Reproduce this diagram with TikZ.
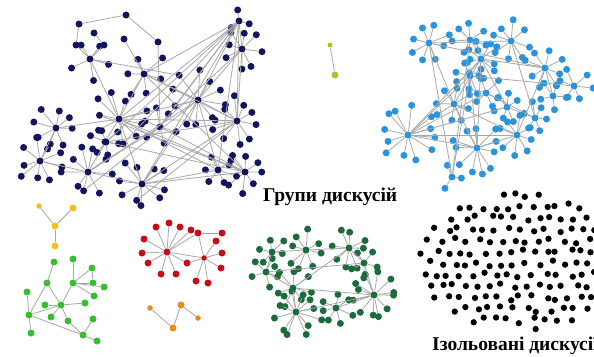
\documentclass[tikz,border=0pt]{standalone}
\usepackage{fontspec}
\setmainfont{Liberation Serif}
\usetikzlibrary{calc}

\definecolor{navy}{HTML}{10155E}
\definecolor{skyblue}{HTML}{2A93DB}
\definecolor{darkgreen}{HTML}{1B6B3B}
\definecolor{brightgreen}{HTML}{36BE30}
\definecolor{netred}{HTML}{C40E18}
\definecolor{netorange}{HTML}{E88A1C}
\definecolor{netyellow}{HTML}{F4C021}
\definecolor{lime}{HTML}{A6C42E}
\definecolor{edgegray}{HTML}{A8A8A8}

\tikzset{
	dot/.style={circle, inner sep=0pt, minimum size=7pt},
	isodot/.style={circle, inner sep=0pt, minimum size=6.3pt, fill=black},
	edge/.style={draw=edgegray, line width=0.8pt},
	lbl/.style={font=\bfseries\fontsize{19.5}{22}\selectfont, inner sep=0pt}
}

% star: name, colour, x, y, leaves, radius
\newcommand{\starnet}[6]{%
	\node[dot,fill=#2] (#1) at (#3,#4) {};
	\foreach \k in {1,...,#5}{%
		\pgfmathsetmacro{\leafang}{\k*360/#5+rnd*24}
		\pgfmathsetmacro{\leafrad}{#6*(0.8+0.5*rnd)}
		\node[dot,fill=#2] (#1-\k) at ($(#1)+(\leafang:\leafrad)$) {};
		\draw[edge] (#1) -- (#1-\k);
	}}

\begin{document}
\begin{tikzpicture}[x=1pt,y=-1pt]
	\pgfmathsetseed{4711}
	\fill[white] (0,0) rectangle (594,356);
	\clip (0,0) rectangle (594,356);
	
	%navy cluster
	\starnet{n1}{navy}{239}{21}{3}{12}
	\starnet{n2}{navy}{242}{49}{8}{16}
	\starnet{n3}{navy}{144}{74}{6}{19}
	\starnet{n4}{navy}{90}{59}{5}{17}
	\starnet{n5}{navy}{198}{100}{10}{25}
	\starnet{n6}{navy}{119}{119}{10}{23}
	\starnet{n7}{navy}{237}{121}{10}{21}
	\starnet{n8}{navy}{56}{128}{8}{19}
	\starnet{n9}{navy}{40}{161}{9}{19}
	\starnet{n10}{navy}{88}{172}{9}{21}
	\starnet{n11}{navy}{142}{184}{10}{21}
	\starnet{n12}{navy}{245}{172}{8}{17}
	\starnet{n13}{navy}{218}{170}{6}{15}
	\starnet{n14}{navy}{106}{142}{6}{15}
	\starnet{n15}{navy}{160}{127}{6}{15}
	\node[dot,fill=navy] (t1) at (79,24) {};
	\node[dot,fill=navy] (t2) at (126,15) {};
	\node[dot,fill=navy] (t3) at (158,42) {};
	\node[dot,fill=navy] (t4) at (94,33) {};
	\node[dot,fill=navy] (t5) at (104,45) {};
	\node[dot,fill=navy] (t6) at (76,45) {};
	\node[dot,fill=navy] (t7) at (124,39) {};
	\foreach \a/\b in {t1/t2, t2/t3, t3/n15, t1/t6, t6/n4, t4/t5, t5/n4, t7/n3,
		n1/n3, n1/n5, n1/n6, n1/n15, n1/n11, n1/n13, n1/n7, n1/n2, n1/n5-4, n1/n6-2, n1/n14,
		n2/n5, n2/n7, n3/n5, n3/n7, n3/n6, n4/n6, n5/n11, n5/n10, n5/n7, n5/n6,
		n6/n7, n6/n11, n6/n13, n6/n8, n6/n12, n8/n9, n9/n10, n10/n11, n10/n14,
		n11/n12, n11/n13, n11/n7, n14/n12, n14/n7, n15/n12, n15/n10, n13/n5, n3/n12,
		n4/n5-6, n7/n11-3, n2/n15-2, n5/n10-2, n12/n6-5}
		\draw[edge] (\a) -- (\b);
	
	%light blue cluster
	\starnet{b1}{skyblue}{429}{43}{8}{17}
	\starnet{b2}{skyblue}{470}{40}{7}{15}
	\starnet{b3}{skyblue}{511}{41}{8}{17}
	\starnet{b4}{skyblue}{481}{59}{9}{16}
	\starnet{b5}{skyblue}{470}{76}{8}{16}
	\starnet{b6}{skyblue}{545}{68}{8}{17}
	\starnet{b7}{skyblue}{574}{86}{6}{15}
	\starnet{b8}{skyblue}{553}{96}{5}{13}
	\starnet{b9}{skyblue}{454}{104}{8}{16}
	\starnet{b10}{skyblue}{486}{93}{6}{14}
	\starnet{b11}{skyblue}{507}{107}{7}{14}
	\starnet{b12}{skyblue}{408}{135}{12}{23}
	\starnet{b13}{skyblue}{477}{148}{11}{21}
	\starnet{b14}{skyblue}{517}{135}{8}{16}
	\starnet{b15}{skyblue}{535}{118}{6}{14}
	\starnet{b16}{skyblue}{452}{177}{3}{11}
	\foreach \a/\b in {b12/b13, b12/b14, b12/b5, b12/b4, b1/b6, b1/b9, b1/b16,
		b4/b13, b5/b13, b5/b16, b4/b9, b3/b15, b6/b8, b9/b14, b10/b12, b2/b16,
		b13/b14, b4/b6, b11/b12, b5/b7, b1/b3, b4/b11, b9/b13, b10/b15, b6/b14}
		\draw[edge] (\a) -- (\b);
	
	%lime pair
	\node[dot,fill=lime,minimum size=5pt] (l1) at (330,45) {};
	\node[dot,fill=lime] (l2) at (335,75) {};
	\draw[edge] (l1) -- (l2);
	
	%yellow
	\node[dot,fill=netyellow] (y0) at (55,226) {};
	\node[dot,fill=netyellow,minimum size=5.5pt] (y1) at (39,206) {};
	\node[dot,fill=netyellow] (y2) at (73,208) {};
	\node[dot,fill=netyellow] (y3) at (55,246) {};
	\foreach \b in {y1,y2,y3} \draw[edge] (y0) -- (\b);
	
	%bright green
	\foreach \n/\x/\y in {g1/54/262, g2/73/259, g3/47/283, g4/73/283, g5/92/268, g6/93/283,
		g7/104/287, g8/94/296, g9/27/292, g10/61/305, g11/45/305, g12/85/303, g13/29/315,
		g14/51/317, g15/68/321, g16/93/319, g17/31/333, g18/83/335, g19/97/341}
		\node[dot,fill=brightgreen] (\n) at (\x,\y) {};
	\foreach \a/\b in {g1/g3, g3/g13, g3/g10, g4/g2, g4/g5, g4/g6, g4/g7, g4/g8, g4/g10,
		g5/g6, g10/g11, g10/g12, g10/g14, g10/g15, g13/g9, g13/g17, g13/g10, g13/g18,
		g18/g19, g18/g16, g18/g15}
		\draw[edge] (\a) -- (\b);
	
	%red
	\node[dot,fill=netred] (r0) at (167,252) {};
	\node[dot,fill=netred,minimum size=5.5pt] (r9) at (204,258) {};
	\foreach \n/\x/\y in {r1/156/227, r2/169/223, r3/180/227, r4/144/239, r5/142/253,
		r6/148/263, r7/161/274, r8/176/274, r10/187/263, r11/191/230}
		\node[dot,fill=netred] (\n) at (\x,\y) {};
	\foreach \n/\x/\y in {s1/198/233, s2/222/233, s3/216/241, s4/222/253, s5/221/268,
		s6/208/283, s7/196/281}
		\node[dot,fill=netred] (\n) at (\x,\y) {};
	\foreach \b in {r1,r2,r3,r4,r5,r6,r7,r8,r9,r10,r11,s1} \draw[edge] (r0) -- (\b);
	\foreach \b in {s1,s3,s4,s5,s6,s7,r10} \draw[edge] (r9) -- (\b);
	\draw[edge] (s1) -- (s2);
	
	%orange
	\node[dot,fill=netorange,minimum size=5.5pt] (o1) at (150,308) {};
	\node[dot,fill=netorange] (o2) at (173,328) {};
	\node[dot,fill=netorange] (o3) at (181,305) {};
	\node[dot,fill=netorange,minimum size=5.5pt] (o4) at (198,318) {};
	\draw[edge] (o1) -- (o2) -- (o3) -- (o4);
	
	%dark green cluster
	\starnet{d1}{darkgreen}{306}{250}{8}{17}
	\starnet{d2}{darkgreen}{349}{248}{8}{17}
	\starnet{d3}{darkgreen}{272}{252}{6}{13}
	\starnet{d4}{darkgreen}{364}{263}{5}{12}
	\starnet{d5}{darkgreen}{293}{288}{7}{16}
	\starnet{d6}{darkgreen}{374}{295}{12}{20}
	\starnet{d7}{darkgreen}{296}{312}{12}{21}
	\starnet{d8}{darkgreen}{336}{308}{7}{15}
	\starnet{d9}{darkgreen}{266}{272}{5}{12}
	\foreach \a/\b in {d1/d2, d3/d1, d9/d4, d5/d6, d5/d2, d7/d6, d8/d6, d7/d5,
		d4/d6, d2/d4, d9/d5, d3/d9}
		\draw[edge] (\a) -- (\b);
	
	%isolated dots
	\foreach \gx in {0,...,15}{
		\foreach \gy in {0,...,12}{
			\pgfmathsetmacro{\px}{417+\gx*12.2+mod(\gy,2)*6+rnd*7-3.5}
			\pgfmathsetmacro{\py}{195+\gy*11.4+rnd*6-3}
			\pgfmathtruncatemacro{\inside}{((\px-521)/104)^2+((\py-262)/69)^2<1}
			\ifnum\inside=1
				\node[isodot] (iso-\gx-\gy) at (\px,\py) {};
			\fi
		}}
	
	%labels
	\node[lbl,anchor=base west] (groups) at (263,201) {Групи дискусій};
	\node[lbl,anchor=base west] (isolated) at (432,350) {Ізольовані дискусії};
\end{tikzpicture}
\end{document}
